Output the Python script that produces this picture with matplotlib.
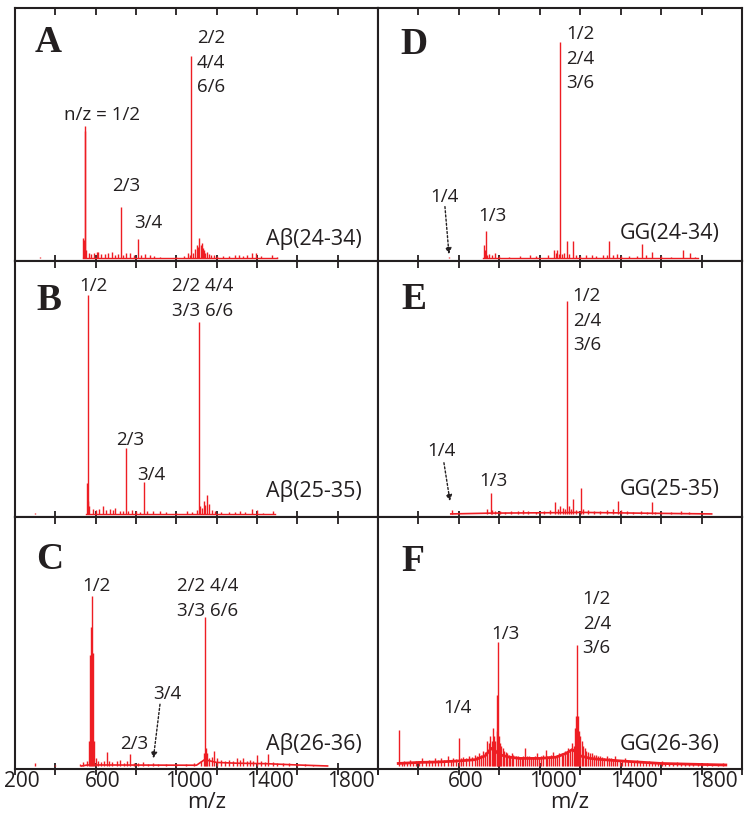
import matplotlib.pyplot as plt
from matplotlib.transforms import ScaledTranslation

plt.rcParams['font.family'] = ['Open Sans', 'DejaVu Sans']

# stick spectra: m/z and height (fraction of panel height above baseline)
a_mz = [324, 537, 541, 545, 547, 551, 565, 578, 592, 606, 613, 628, 646, 660, 680, 694, 712, 724, 738,
        752, 770, 790, 810, 826, 845, 869, 890, 920, 1000, 1040, 1058, 1066, 1073, 1085, 1094, 1101,
        1108, 1114, 1120, 1126, 1131, 1137, 1144, 1151, 1160, 1172, 1185, 1200, 1230, 1260, 1290,
        1311, 1330, 1349, 1375, 1395, 1420, 1474, 1500]
a_int = [0.005, 0.08, 0.07, 0.50, 0.52, 0.03, 0.02, 0.015, 0.02, 0.025, 0.025, 0.015, 0.015, 0.02,
         0.025, 0.01, 0.015, 0.20, 0.012, 0.02, 0.02, 0.01, 0.075, 0.012, 0.015, 0.01, 0.006, 0.005,
         0.004, 0.006, 0.02, 0.01, 0.80, 0.02, 0.035, 0.05, 0.045, 0.078, 0.05, 0.06, 0.04, 0.03,
         0.02, 0.025, 0.015, 0.01, 0.012, 0.008, 0.006, 0.008, 0.01, 0.012, 0.008, 0.01, 0.018,
         0.018, 0.006, 0.01, 0.004]

b_mz = [300, 556, 560, 564, 569, 588, 600, 615, 638, 650, 671, 685, 696, 720, 735, 749, 762, 779,
        800, 820, 840, 855, 884, 919, 950, 1000, 1051, 1080, 1100, 1112, 1117, 1125, 1137, 1144,
        1151, 1162, 1175, 1190, 1220, 1260, 1290, 1316, 1340, 1374, 1399, 1430, 1481]
b_int = [0.004, 0.12, 0.05, 0.855, 0.03, 0.02, 0.015, 0.02, 0.03, 0.015, 0.02, 0.015, 0.025, 0.012,
         0.01, 0.257, 0.01, 0.015, 0.01, 0.008, 0.124, 0.01, 0.012, 0.01, 0.006, 0.005, 0.012,
         0.008, 0.015, 0.75, 0.03, 0.025, 0.05, 0.035, 0.075, 0.04, 0.015, 0.01, 0.008, 0.006,
         0.008, 0.01, 0.006, 0.018, 0.015, 0.005, 0.01]

c_mz = [299, 398, 520, 538, 555, 565, 572, 577, 582, 587, 592, 600, 612, 625, 640, 655, 668, 680,
        704, 721, 740, 755, 770, 790, 810, 836, 860, 885, 910, 950, 1000, 1050, 1090, 1120, 1135,
        1140, 1146, 1152, 1160, 1175, 1188, 1200, 1220, 1240, 1260, 1280, 1300, 1315, 1331, 1350,
        1365, 1380, 1398, 1420, 1440, 1456, 1480, 1500, 1530, 1560, 1600, 1640, 1680]
c_int = [0.01, 0.005, 0.008, 0.015, 0.02, 0.1, 0.44, 0.55, 0.675, 0.45, 0.1, 0.03, 0.02, 0.015,
         0.02, 0.054, 0.02, 0.015, 0.02, 0.025, 0.012, 0.02, 0.046, 0.012, 0.01, 0.015, 0.008,
         0.01, 0.006, 0.006, 0.008, 0.008, 0.01, 0.02, 0.05, 0.59, 0.07, 0.05, 0.03, 0.035, 0.06,
         0.03, 0.025, 0.02, 0.025, 0.02, 0.03, 0.025, 0.03, 0.02, 0.025, 0.02, 0.042, 0.02, 0.015,
         0.046, 0.015, 0.012, 0.01, 0.012, 0.008, 0.006, 0.005]
c_base_mz = [530, 560, 600, 1100, 1140, 1200, 1300, 1450, 1600, 1750]
c_base = [0.0, 0.004, 0.004, 0.003, 0.025, 0.014, 0.011, 0.009, 0.004, 0.0]

d_mz = [551, 725, 730, 734, 740, 750, 765, 779, 800, 850, 900, 952, 980, 1040, 1070, 1080, 1085,
        1093, 1100, 1110, 1120, 1133, 1145, 1166, 1180, 1200, 1230, 1257, 1280, 1313, 1330, 1342,
        1360, 1380, 1400, 1440, 1480, 1507, 1525, 1553, 1600, 1650, 1710, 1743, 1770]
d_int = [0.005, 0.05, 0.03, 0.105, 0.01, 0.015, 0.01, 0.02, 0.006, 0.005, 0.008, 0.01, 0.006, 0.01,
         0.03, 0.02, 0.03, 0.015, 0.853, 0.015, 0.02, 0.066, 0.015, 0.066, 0.01, 0.008, 0.01, 0.012,
         0.008, 0.01, 0.012, 0.066, 0.01, 0.015, 0.008, 0.006, 0.008, 0.055, 0.01, 0.024, 0.006,
         0.004, 0.03, 0.02, 0.005]

e_mz = [566, 740, 757, 765, 780, 803, 830, 860, 890, 918, 940, 980, 1020, 1050, 1075, 1090, 1100,
        1115, 1125, 1133, 1145, 1155, 1166, 1180, 1202, 1215, 1240, 1270, 1300, 1330, 1360, 1389,
        1400, 1430, 1460, 1500, 1530, 1553, 1570, 1600, 1650, 1700, 1740, 1800]
e_int = [0.015, 0.02, 0.08, 0.015, 0.01, 0.012, 0.008, 0.012, 0.01, 0.015, 0.01, 0.008, 0.01, 0.015,
         0.045, 0.02, 0.03, 0.025, 0.02, 0.83, 0.03, 0.02, 0.06, 0.015, 0.10, 0.02, 0.015, 0.01,
         0.012, 0.015, 0.02, 0.05, 0.015, 0.01, 0.008, 0.01, 0.008, 0.045, 0.008, 0.006, 0.008,
         0.01, 0.008, 0.005]
e_base_mz = [560, 750, 1100, 1200, 1500, 1850]
e_base = [0.0, 0.003, 0.005, 0.006, 0.003, 0.0]

f_mz = [305, 318, 330, 345, 360, 375, 390, 405, 420, 435,
        450, 465, 480, 495, 510, 528, 548, 560, 570, 585,
        600, 610, 620, 635, 650, 665, 680, 690, 700, 710,
        720, 730, 740, 748, 755, 762, 770, 775, 780, 786,
        790, 795, 800, 805, 810, 817, 825, 832, 840, 846,
        853, 862, 870, 880, 890, 900, 910, 918, 927, 935,
        945, 955, 965, 975, 985, 995, 1005, 1015, 1029, 1037,
        1045, 1055, 1067, 1075, 1085, 1095, 1108, 1116, 1125, 1133,
        1140, 1150, 1160, 1168, 1175, 1180, 1183, 1188, 1192, 1200,
        1207, 1215, 1222, 1230, 1240, 1250, 1260, 1270, 1280, 1290,
        1300, 1310, 1320, 1330, 1340, 1350, 1360, 1372, 1383, 1395,
        1408, 1420, 1435, 1450, 1465, 1480, 1495, 1510, 1525, 1540,
        1555, 1570, 1585, 1603, 1620, 1640, 1660, 1680, 1700, 1720,
        1740, 1760, 1780, 1800, 1825, 1850, 1880, 1908]
f_int = [0.143, 0.015, 0.02, 0.012, 0.025, 0.015, 0.02, 0.018, 0.03, 0.02,
         0.025, 0.02, 0.03, 0.022, 0.03, 0.025, 0.04, 0.025, 0.03, 0.028,
         0.11, 0.03, 0.035, 0.03, 0.04, 0.035, 0.045, 0.04, 0.05, 0.045,
         0.06, 0.055, 0.1, 0.09, 0.12, 0.1, 0.15, 0.12, 0.1, 0.14,
         0.28, 0.49, 0.12, 0.09, 0.08, 0.07, 0.06, 0.055, 0.05, 0.045,
         0.04, 0.05, 0.045, 0.04, 0.04, 0.035, 0.035, 0.04, 0.07, 0.04,
         0.04, 0.035, 0.035, 0.04, 0.05, 0.035, 0.04, 0.045, 0.065, 0.04,
         0.04, 0.045, 0.055, 0.04, 0.045, 0.05, 0.05, 0.045, 0.06, 0.055,
         0.07, 0.065, 0.09, 0.08, 0.15, 0.2, 0.48, 0.2, 0.14, 0.12,
         0.1, 0.08, 0.07, 0.06, 0.055, 0.05, 0.05, 0.045, 0.045, 0.04,
         0.04, 0.035, 0.03, 0.04, 0.03, 0.03, 0.028, 0.04, 0.025, 0.025,
         0.022, 0.03, 0.02, 0.02, 0.018, 0.025, 0.016, 0.018, 0.015, 0.02,
         0.014, 0.015, 0.012, 0.02, 0.012, 0.012, 0.01, 0.015, 0.01, 0.01,
         0.008, 0.012, 0.008, 0.008, 0.01, 0.006, 0.006, 0.01]
f_base_mz = [300, 350, 400, 500, 600, 680, 730, 760, 780, 800, 850, 900, 1000, 1080, 1130, 1160,
             1180, 1200, 1250, 1300, 1400, 1500, 1600, 1700, 1800, 1920]
f_base = [0.01, 0.012, 0.014, 0.016, 0.02, 0.025, 0.04, 0.07, 0.06, 0.045, 0.035, 0.03, 0.03,
          0.035, 0.05, 0.065, 0.055, 0.04, 0.03, 0.026, 0.02, 0.015, 0.01, 0.008, 0.006, 0.004]

letters = ['A', 'B', 'C', 'D', 'E', 'F']
samples = ['Aβ(24-34)', 'Aβ(25-35)', 'Aβ(26-36)', 'GG(24-34)', 'GG(25-35)', 'GG(26-36)']
xticks = [200, 400, 600, 800, 1000, 1200, 1400, 1600, 1800, 2000]
left_labels = ['200', '', '600', '', '1000', '', '1400', '', '1800', '']
right_labels = ['', '', '600', '', '1000', '', '1400', '', '1800', '']

RED = '#ee1d23'
INK = '#231f20'
BASE = 0.012
DY = 0.097


def stack(ax, x, y, lines, ha='left'):
    for i, s in enumerate(lines):
        ax.text(x, BASE + y - i * DY, s, ha=ha, va='baseline', fontsize=13.5, color=INK)


def arrow(ax, x0, y0, x1, y1):
    ax.annotate('', xy=(x1, BASE + y1), xytext=(x0, BASE + y0),
                arrowprops=dict(arrowstyle='-|>', ls=(0, (1.5, 1.5)), lw=1, color=INK,
                                mutation_scale=9, shrinkA=0, shrinkB=0))


fig = plt.figure(figsize=(7.51, 8.21), dpi=100)
W, H = 751.0, 821.0
cols = [(15, 363), (378, 364)]
rows = [8, 261, 517, 769]
shift = ScaledTranslation(-0.11, 0, fig.dpi_scale_trans)

axes = []
for c in range(2):
    for r in range(3):
        x0, w = cols[c]
        ax = fig.add_axes([x0 / W, 1 - rows[r + 1] / H, w / W, (rows[r + 1] - rows[r]) / H])
        ax.set_xlim(200, 2000)
        ax.set_ylim(0, 1)
        ax.set_yticks([])
        ax.set_xticks(xticks)
        ax.set_xticklabels(left_labels if c == 0 else right_labels)
        ax.tick_params(axis='x', which='both', top=True, bottom=True, width=1.3, colors=INK,
                       labelsize=15, labelbottom=(r == 2), pad=-3)
        ax.tick_params(axis='x', which='major', direction='inout', length=9)
        for lab in ax.get_xticklabels():
            lab.set_ha('left')
            lab.set_transform(lab.get_transform() + shift)
        for sp in ax.spines.values():
            sp.set_linewidth(1.5)
            sp.set_color(INK)
        axes.append(ax)

# top ticks point inward only
for ax in axes:
    for t in ax.xaxis.get_major_ticks():
        t.tick2line.set_marker(3)
        t.tick2line.set_markersize(5)

ax_a, ax_b, ax_c, ax_d, ax_e, ax_f = axes

spectra = [(a_mz, a_int), (b_mz, b_int), (c_mz, c_int), (d_mz, d_int), (e_mz, e_int), (f_mz, f_int)]
for ax, (mz, inten) in zip(axes, spectra):
    ax.vlines(mz, BASE, [BASE + v for v in inten], color=RED, lw=1)

ax_a.plot([535, 1500], [BASE, BASE], color=RED, lw=1)
ax_b.plot([550, 1490], [BASE, BASE], color=RED, lw=1)
ax_c.plot(c_base_mz, [BASE + v for v in c_base], color=RED, lw=1.2)
ax_d.plot([720, 1780], [BASE, BASE], color=RED, lw=1)
ax_e.plot(e_base_mz, [BASE + v for v in e_base], color=RED, lw=1.2)
ax_f.plot(f_base_mz, [BASE + v for v in f_base], color=RED, lw=2)

letter_pos = [(299, 0.814), (304, 0.797), (304, 0.78), (309, 0.807), (317, 0.80), (317, 0.774)]
name_pos = [(1919, 0.05), (1919, 0.065), (1919, 0.065), (1891, 0.073), (1891, 0.075), (1891, 0.065)]
for ax, l, (lx, ly), s, (nx, ny) in zip(axes, letters, letter_pos, samples, name_pos):
    ax.text(lx, BASE + ly, l, fontfamily='Liberation Serif', fontweight='bold', fontsize=27,
            va='baseline', color=INK)
    ax.text(nx, BASE + ny, s, ha='right', va='baseline', fontsize=15.5, color=INK)

# panel A
stack(ax_a, 1101, 0.849, ['2/2', '4/4', '6/6'])
stack(ax_a, 632, 0.546, ['n/z = 1/2'], ha='center')
stack(ax_a, 749, 0.264, ['2/3'], ha='center')
stack(ax_a, 863, 0.117, ['3/4'], ha='center')
# panel B
stack(ax_b, 587, 0.87, ['1/2'], ha='center')
stack(ax_b, 980, 0.87, ['2/2 4/4', '3/3 6/6'])
stack(ax_b, 772, 0.27, ['2/3'], ha='center')
stack(ax_b, 878, 0.134, ['3/4'], ha='center')
# panel C
stack(ax_c, 603, 0.694, ['1/2'], ha='center')
stack(ax_c, 1002, 0.694, ['2/2 4/4', '3/3 6/6'])
stack(ax_c, 957, 0.264, ['3/4'], ha='center')
stack(ax_c, 792, 0.067, ['2/3'], ha='center')
arrow(ax_c, 919, 0.245, 886, 0.03)
# panel D
stack(ax_d, 1130, 0.864, ['1/2', '2/4', '3/6'])
stack(ax_d, 529, 0.221, ['1/4'], ha='center')
stack(ax_d, 766, 0.145, ['1/3'], ha='center')
arrow(ax_d, 531, 0.203, 551, 0.015)
# panel E
stack(ax_e, 1163, 0.833, ['1/2', '2/4', '3/6'])
stack(ax_e, 515, 0.227, ['1/4'], ha='center')
stack(ax_e, 770, 0.111, ['1/3'], ha='center')
arrow(ax_e, 526, 0.2, 556, 0.05)
# panel F
stack(ax_f, 1212, 0.642, ['1/2', '2/4', '3/6'])
stack(ax_f, 830, 0.504, ['1/3'], ha='center')
stack(ax_f, 592, 0.212, ['1/4'], ha='center')

fig.text(207 / W, 1 - 802 / H, 'm/z', ha='center', va='center', fontsize=16, color=INK)
fig.text(570 / W, 1 - 802 / H, 'm/z', ha='center', va='center', fontsize=16, color=INK)

fig.savefig('out.png', dpi=100)
